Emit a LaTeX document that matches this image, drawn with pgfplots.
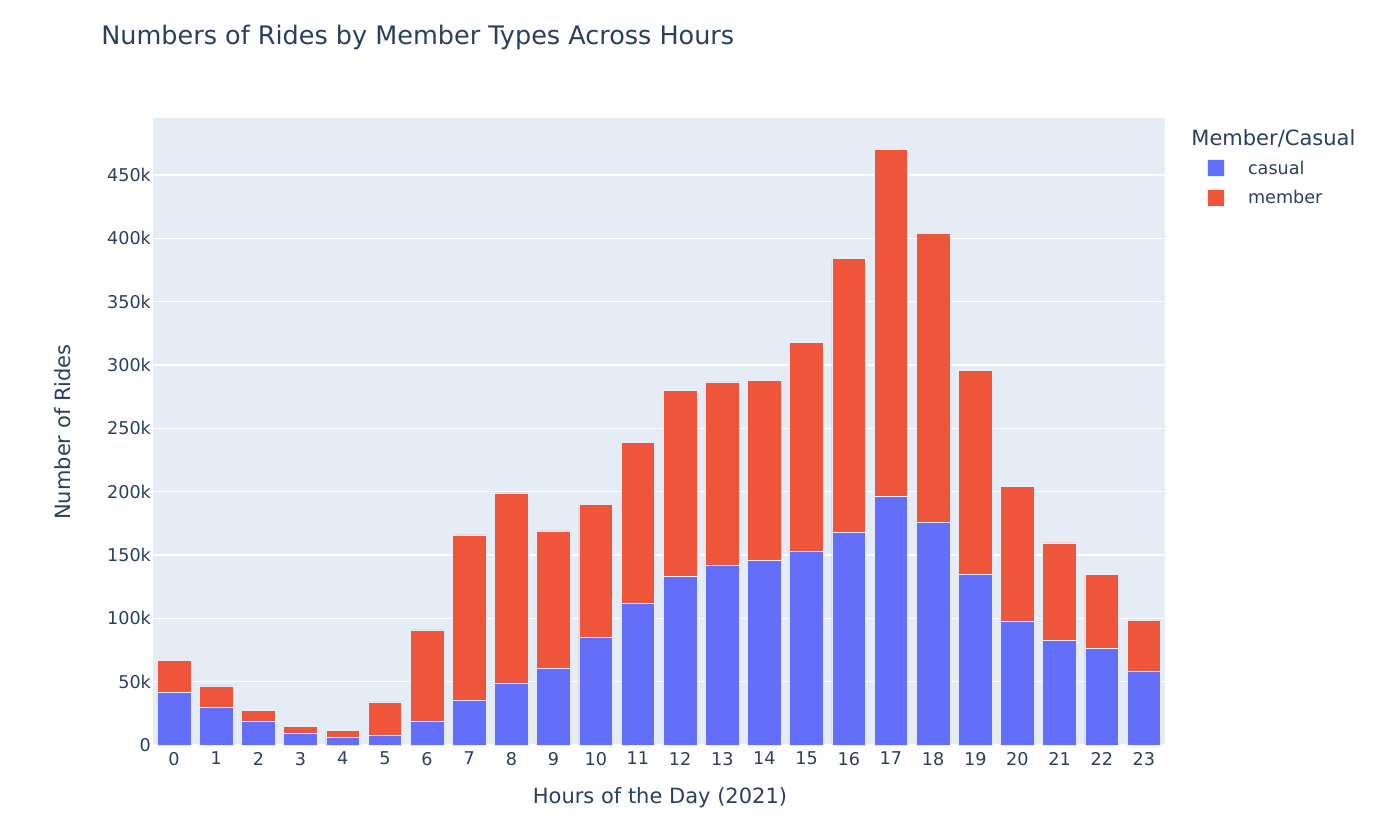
\documentclass[border=0pt]{standalone}
\usepackage{fontspec}
\setmainfont{DejaVu Sans}
\usepackage{pgfplots}
\pgfplotsset{compat=1.18}
\usepackage{pgfplotstable}
\definecolor{txt}{HTML}{2A3F5F}
\definecolor{casualc}{HTML}{636EFA}
\definecolor{memberc}{HTML}{EF553B}
\definecolor{bgc}{HTML}{E5ECF6}
\pgfplotstableread{
hour casual member
0 41800 25200
1 30000 16600
2 19000 8600
3 9500 5500
4 6300 5500
5 7900 26100
6 19000 71800
7 35500 130300
8 49000 150000
9 60800 108200
10 85000 105000
11 112000 127000
12 133000 147000
13 142000 144600
14 146000 142000
15 153000 165000
16 168000 216000
17 196000 274000
18 176000 228000
19 135000 161000
20 98000 106000
21 83000 76500
22 76600 58400
23 58400 40300
}\rides
\begin{document}
\begin{tikzpicture}
\begin{axis}[
  scale only axis,
  width=506pt, height=313.5pt,
  ybar stacked,
  bar width=0.8,
  xmin=-0.5, xmax=23.5,
  ymin=0, ymax=495000,
  xtick={0,...,23},
  xticklabels={0,1,2,3,4,5,6,7,8,9,10,11,12,13,14,15,16,17,18,19,20,21,22,23},
  ytick={0,50000,100000,150000,200000,250000,300000,350000,400000,450000},
  yticklabels={0,50k,100k,150k,200k,250k,300k,350k,400k,450k},
  scaled y ticks=false,
  /pgf/number format/assume math mode=true,
  axis line style={draw=none},
  major tick length=0pt,
  tick style={draw=none},
  ymajorgrids,
  grid style={white, line width=0.6pt},
  axis background/.style={fill=bgc},
  ticklabel style={font=\fontsize{8.8}{10}\selectfont, text=txt},
  yticklabel style={xshift=2.5pt},
  xticklabel style={yshift=0pt},
  legend style={draw=none, fill=none, at={(1.0356,0.945)}, anchor=north west,
    font=\fontsize{8.8}{10}\selectfont, text=txt, legend cell align=left,
    row sep=2.5pt, /tikz/every odd column/.append style={column sep=9.5pt}},
  legend image code/.code={\fill[#1] (0pt,-3.75pt) rectangle (8.5pt,4.75pt);},
  clip=false,
]
\addplot+[fill=casualc, draw=bgc, line width=0.3pt] table[x=hour, y=casual] {\rides};
\addlegendentry{casual}
\addplot+[fill=memberc, draw=bgc, line width=0.3pt] table[x=hour, y=member] {\rides};
\addlegendentry{member}
\end{axis}
\node[anchor=west, inner sep=0pt, text=txt, font=\fontsize{12.75}{15}\selectfont] at (-26pt,354pt) {Numbers of Rides by Member Types Across Hours};
\node[rotate=90, text=txt, font=\fontsize{10.5}{12}\selectfont] at (-45pt,156.5pt) {Number of Rides};
\node[text=txt, font=\fontsize{10.5}{12}\selectfont] at (253.5pt,-26.5pt) {Hours of the Day (2021)};
\node[anchor=west, inner sep=0pt, text=txt, font=\fontsize{10.5}{12}\selectfont] at (519pt,303.5pt) {Member/Casual};
\useasboundingbox (-76.5pt,-40.5pt) rectangle (623.5pt,372.5pt);
\end{tikzpicture}
\end{document}
